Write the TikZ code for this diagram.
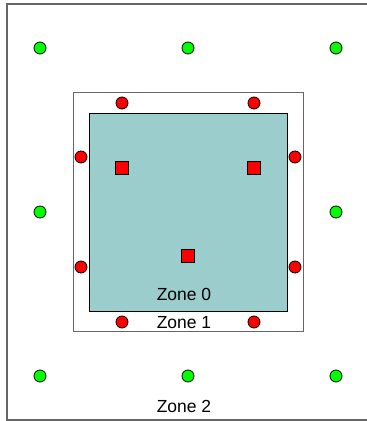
\documentclass[tikz,border=0pt]{standalone}
\usepackage{fontspec}
\setmainfont{Liberation Sans}
\definecolor{teal0}{HTML}{9CCDCD}
\definecolor{bord}{HTML}{666666}
\begin{document}
\begin{tikzpicture}[x=1pt,y=-1pt,
  green dot/.style={circle,draw=black,fill=green,line width=0.8pt,minimum size=12pt,inner sep=0pt},
  red dot/.style={circle,draw=black,fill=red,line width=0.8pt,minimum size=12pt,inner sep=0pt},
  red sq/.style={rectangle,draw=black,fill=red,line width=0.8pt,minimum size=13pt,inner sep=0pt},
  zlabel/.style={font=\fontsize{17.5pt}{20pt}\selectfont,inner sep=0pt,text height=12.5pt,text depth=0pt}]
\useasboundingbox (0,0) rectangle (367,421);
% outer zone 2 border
\draw[bord,line width=1.5pt] (367,4) -- (7,4) -- (7,420) -- (367,420);
% zone 1
\draw[bord,line width=1pt,fill=white] (73,92) rectangle (303,331);
% zone 0
\draw[black,line width=1pt,fill=teal0] (89,113) rectangle (287,311);
% green dots
\foreach \x/\n in {40/a,188/b,336/c}{
  \node[green dot] (g\n1) at (\x,48) {};
  \node[green dot] (g\n3) at (\x,376) {};
}
\node[green dot] (ga2) at (40,212) {};
\node[green dot] (gc2) at (336,212) {};
% red dots
\node[red dot] (rt1) at (122,103) {};
\node[red dot] (rt2) at (254,103) {};
\node[red dot] (rl1) at (81,157) {};
\node[red dot] (rl2) at (81,267) {};
\node[red dot] (rr1) at (295,157) {};
\node[red dot] (rr2) at (295,267) {};
\node[red dot] (rb1) at (122,322) {};
\node[red dot] (rb2) at (254,322) {};
% red squares
\node[red sq] (s1) at (122,168) {};
\node[red sq] (s2) at (254,168) {};
\node[red sq] (s3) at (188,256) {};
% labels
\node[zlabel] (z0) at (184,294) {Zone 0};
\node[zlabel] (z1) at (184,322) {Zone 1};
\node[zlabel] (z2) at (184,406) {Zone 2};
\end{tikzpicture}
\end{document}
